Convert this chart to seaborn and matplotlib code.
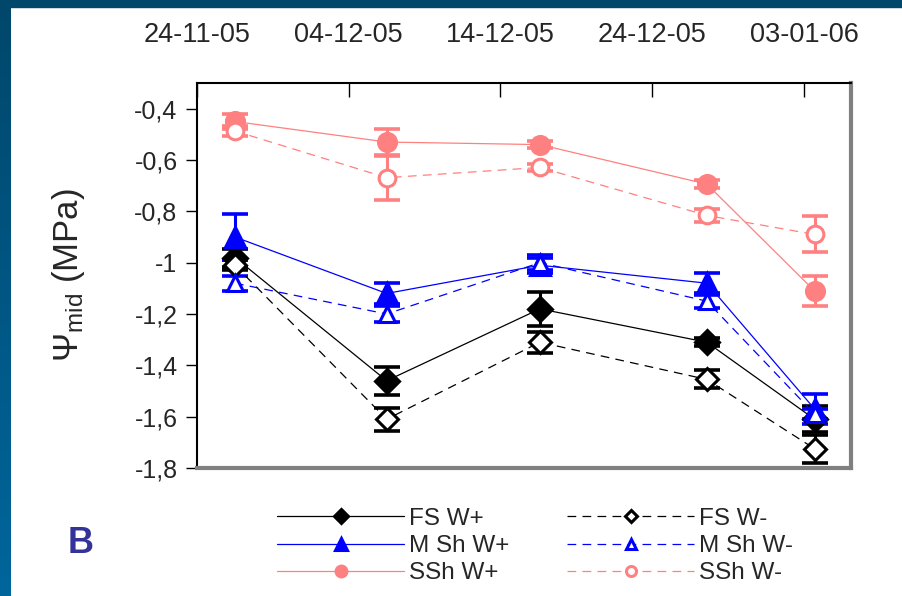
import numpy as np
import pandas as pd
import matplotlib
matplotlib.use("Agg")
import matplotlib.pyplot as plt
import matplotlib.transforms as mtransforms
from matplotlib.patches import Rectangle
from matplotlib.colors import LinearSegmentedColormap
import seaborn as sns

# ---------------- data ----------------
date_labels = ["24-11-05", "04-12-05", "14-12-05", "24-12-05", "03-01-06"]
date_ticks = [0, 10, 20, 30, 40]          # days since 24-11-05
sample_days = [2.5, 12.5, 22.6, 33.6, 40.7]

fs_wp = [-0.98, -1.46, -1.18, -1.31, -1.61]
fs_wp_err = [0.035, 0.055, 0.065, 0.015, 0.05]
fs_wm = [-1.01, -1.61, -1.31, -1.455, -1.725]
fs_wm_err = [0.02, 0.045, 0.04, 0.035, 0.055]
msh_wp = [-0.90, -1.12, -1.01, -1.08, -1.57]
msh_wp_err = [0.09, 0.04, 0.03, 0.04, 0.06]
msh_wm = [-1.08, -1.20, -1.00, -1.15, -1.59]
msh_wm_err = [0.03, 0.03, 0.03, 0.025, 0.02]
ssh_wp = [-0.45, -0.53, -0.54, -0.694, -1.11]
ssh_wp_err = [0.03, 0.05, 0.015, 0.015, 0.06]
ssh_wm = [-0.487, -0.669, -0.629, -0.816, -0.89]
ssh_wm_err = [0.02, 0.085, 0.015, 0.025, 0.07]

series_names = ["FS W+", "FS W-", "M Sh W+", "M Sh W-", "SSh W+", "SSh W-"]

# ---------------- style ----------------
sns.set_theme(style="white")
plt.rcParams["font.family"] = ["Liberation Sans", "DejaVu Sans"]
plt.rcParams["mathtext.fontset"] = "custom"
plt.rcParams["mathtext.rm"] = "Liberation Sans"
plt.rcParams["mathtext.it"] = "Liberation Sans"

fig = plt.figure(figsize=(9.02, 5.96), dpi=100)
fig.patch.set_facecolor("white")

# blue frame (left gradient bar + top bar)
grad = LinearSegmentedColormap.from_list("g", ["#00476b", "#00669c"])
bar_ax = fig.add_axes([0, 0, 11 / 902, 1])
bar_ax.imshow(np.linspace(0, 1, 200).reshape(-1, 1), aspect="auto", cmap=grad,
              extent=[0, 1, 0, 1])
bar_ax.set_axis_off()
fig.patches.append(Rectangle((0, 1 - 7 / 596), 1, 7 / 596, transform=fig.transFigure,
                             color="#00476b", zorder=0))

ax = fig.add_axes([197 / 902, 1 - 468 / 596, (851 - 197) / 902, (468 - 83) / 596])
ax.set_facecolor("white")

styles = {
    "FS W+": dict(color="black", marker="D", ms=12, mfc="black", ls="-"),
    "FS W-": dict(color="black", marker="D", ms=11, mfc="white", ls="--"),
    "M Sh W+": dict(color="#0000ff", marker="^", ms=14, mfc="#0000ff", ls="-"),
    "M Sh W-": dict(color="#0000ff", marker="^", ms=12, mfc="white", ls="--"),
    "SSh W+": dict(color="#ff8080", marker="o", ms=13, mfc="#ff8080", ls="-"),
    "SSh W-": dict(color="#ff8080", marker="o", ms=12, mfc="white", ls="--"),
}
values = {"FS W+": (fs_wp, fs_wp_err), "FS W-": (fs_wm, fs_wm_err),
          "M Sh W+": (msh_wp, msh_wp_err), "M Sh W-": (msh_wm, msh_wm_err),
          "SSh W+": (ssh_wp, ssh_wp_err), "SSh W-": (ssh_wm, ssh_wm_err)}

handles = {}
for name in series_names:
    y, e = values[name]
    st = styles[name]
    df = pd.DataFrame({"day": sample_days, "psi": y})
    ax.errorbar(sample_days, y, yerr=e, fmt="none", ecolor=st["color"],
                elinewidth=2.2, capsize=9.5, capthick=2.6, zorder=2)
    sns.lineplot(data=df, x="day", y="psi", ax=ax, color=st["color"],
                 linestyle=st["ls"], linewidth=0.9, marker=st["marker"],
                 markersize=st["ms"], markerfacecolor=st["mfc"],
                 markeredgecolor=st["color"], markeredgewidth=2.2,
                 legend=False, zorder=3)
    line = ax.lines[-1]
    if st["ls"] == "--":
        line.set_dashes((7, 5))
    handles[name] = line

ax.set_xlim(0, 43.1)
ax.set_ylim(-1.8, -0.3)
yt = np.arange(-1.8, -0.39, 0.2).round(1)
ax.set_yticks(yt)
ax.set_yticklabels([("%g" % v).replace(".", ",") for v in yt])

# x axis on top: tick marks at dates, labels slightly right
ax.xaxis.tick_top()
ax.set_xticks(date_ticks)
ax.set_xticklabels(date_labels, fontsize=19.5)
offset = mtransforms.ScaledTranslation(8 / 100, 0, fig.dpi_scale_trans)
for lab in ax.get_xticklabels():
    lab.set_transform(lab.get_transform() + offset)
ax.tick_params(axis="x", which="major", direction="in", length=10, width=1,
               color="black", pad=25, top=True, bottom=False)
ax.tick_params(axis="y", direction="out", length=8, width=1, color="black",
               labelsize=18, pad=6, left=True)
ax.set_xlabel("")
ax.set_ylabel(r"$\Psi_{\mathrm{mid}}$ (MPa)", fontsize=25, labelpad=34)

for side in ["left", "top"]:
    ax.spines[side].set_color("black")
    ax.spines[side].set_linewidth(1.5)
for side in ["right", "bottom"]:
    ax.spines[side].set_color("#808080")
    ax.spines[side].set_linewidth(3)

# legend (row-major ordering with 2 columns)
order = ["FS W+", "M Sh W+", "SSh W+", "FS W-", "M Sh W-", "SSh W-"]
leg = fig.legend([handles[n] for n in order], order, ncol=2, loc="center",
                 bbox_to_anchor=(535 / 902, 1 - 546 / 596), frameon=False,
                 fontsize=17.5, handlelength=5.2, handletextpad=0.2,
                 columnspacing=2.4, labelspacing=0.22, markerscale=0.6)

fig.text(68 / 902, 1 - 553 / 596, "B", fontsize=26, fontweight="bold",
         color="#333399", ha="left", va="baseline")

fig.savefig("out.png", dpi=100)
